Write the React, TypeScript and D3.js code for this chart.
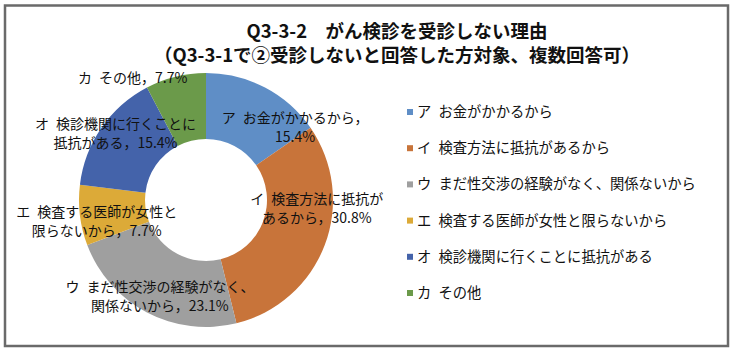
import * as d3 from 'd3';

const titleLines = ['Q3-3-2　がん検診を受診しない理由', '（Q3-3-1で②受診しないと回答した方対象、複数回答可）'];
const categories = [
  'ア\u2002お金がかかるから',
  'イ\u2002検査方法に抵抗があるから',
  'ウ\u2002まだ性交渉の経験がなく、関係ないから',
  'エ\u2002検査する医師が女性と限らないから',
  'オ\u2002検診機関に行くことに抵抗がある',
  'カ\u2002その他',
];
const values = [15.4, 30.8, 23.1, 7.7, 15.4, 7.7];
// data label text, split the way the chart wraps it
const labelLines = [
  ['ア\u2002お金がかかるから，', '15.4%'],
  ['イ\u2002検査方法に抵抗が', 'あるから，30.8%'],
  ['ウ\u2002まだ性交渉の経験がなく、', '関係ないから，23.1%'],
  ['エ\u2002検査する医師が女性と', '限らないから，7.7%'],
  ['オ\u2002検診機関に行くことに', '抵抗がある，15.4%'],
  ['カ\u2002その他，7.7%'],
];
const colors = ['#5f8ec6', '#c8743a', '#9f9f9f', '#dcaa38', '#4463aa', '#6b9a4a'];

// nudges from the arc centroid (labels were moved by hand in the original)
const labelNudge = [
  [38, 25],
  [8, -31],
  [5, -1],
  [0, 8],
  [0, -4],
  [-47, -15],
];

const W = 736;
const H = 354;
const cx = 206;
const cy = 200;
const outerR = 127;
const innerR = 61;
const font = '"Noto Sans CJK JP", "Noto Sans", sans-serif';

export default function App() {
  const pie = d3.pie<number>().sort(null).value((d) => d);
  const arcs = pie(values);
  const arc = d3.arc<d3.PieArcDatum<number>>().innerRadius(innerR).outerRadius(outerR);
  const labelArc = d3.arc<d3.PieArcDatum<number>>().innerRadius(110).outerRadius(110);

  const legendY = d3.scalePoint<number>().domain(d3.range(categories.length)).range([112, 293]);

  return (
    <svg
      width={W}
      height={H}
      style={{ position: 'absolute', left: 0, top: 0, background: '#fff' }}
      fontFamily={font}
    >
      <rect x={5} y={5.5} width={723} height={340.5} fill="#fff" stroke="#6a6a6a" strokeWidth={2.5} />

      <text textAnchor="middle" fontSize={18.5} fontWeight="bold" fill="#111">
        {titleLines.map((t, i) => (
          <tspan key={i} x={397} y={38 + i * 24}>
            {t}
          </tspan>
        ))}
      </text>

      <g transform={`translate(${cx},${cy})`}>
        {arcs.map((a, i) => (
          <path key={i} d={arc(a) ?? ''} fill={colors[i]} />
        ))}
        {arcs.map((a, i) => {
          const [lx, ly] = labelArc.centroid(a);
          const lines = labelLines[i];
          const x = lx + labelNudge[i][0];
          const y0 = ly + labelNudge[i][1] - ((lines.length - 1) * 19) / 2;
          return (
            <text key={i} textAnchor="middle" fontSize={14} fill="#111">
              {lines.map((l, j) => (
                <tspan key={j} x={x} y={y0 + j * 19 + 5}>
                  {l}
                </tspan>
              ))}
            </text>
          );
        })}
      </g>

      <g>
        {categories.map((c, i) => (
          <g key={i} transform={`translate(407,${legendY(i)})`}>
            <rect x={0} y={-3} width={6} height={6} fill={colors[i]} />
            <text x={10} y={5} fontSize={14.3} fill="#111">
              {c}
            </text>
          </g>
        ))}
      </g>
    </svg>
  );
}
